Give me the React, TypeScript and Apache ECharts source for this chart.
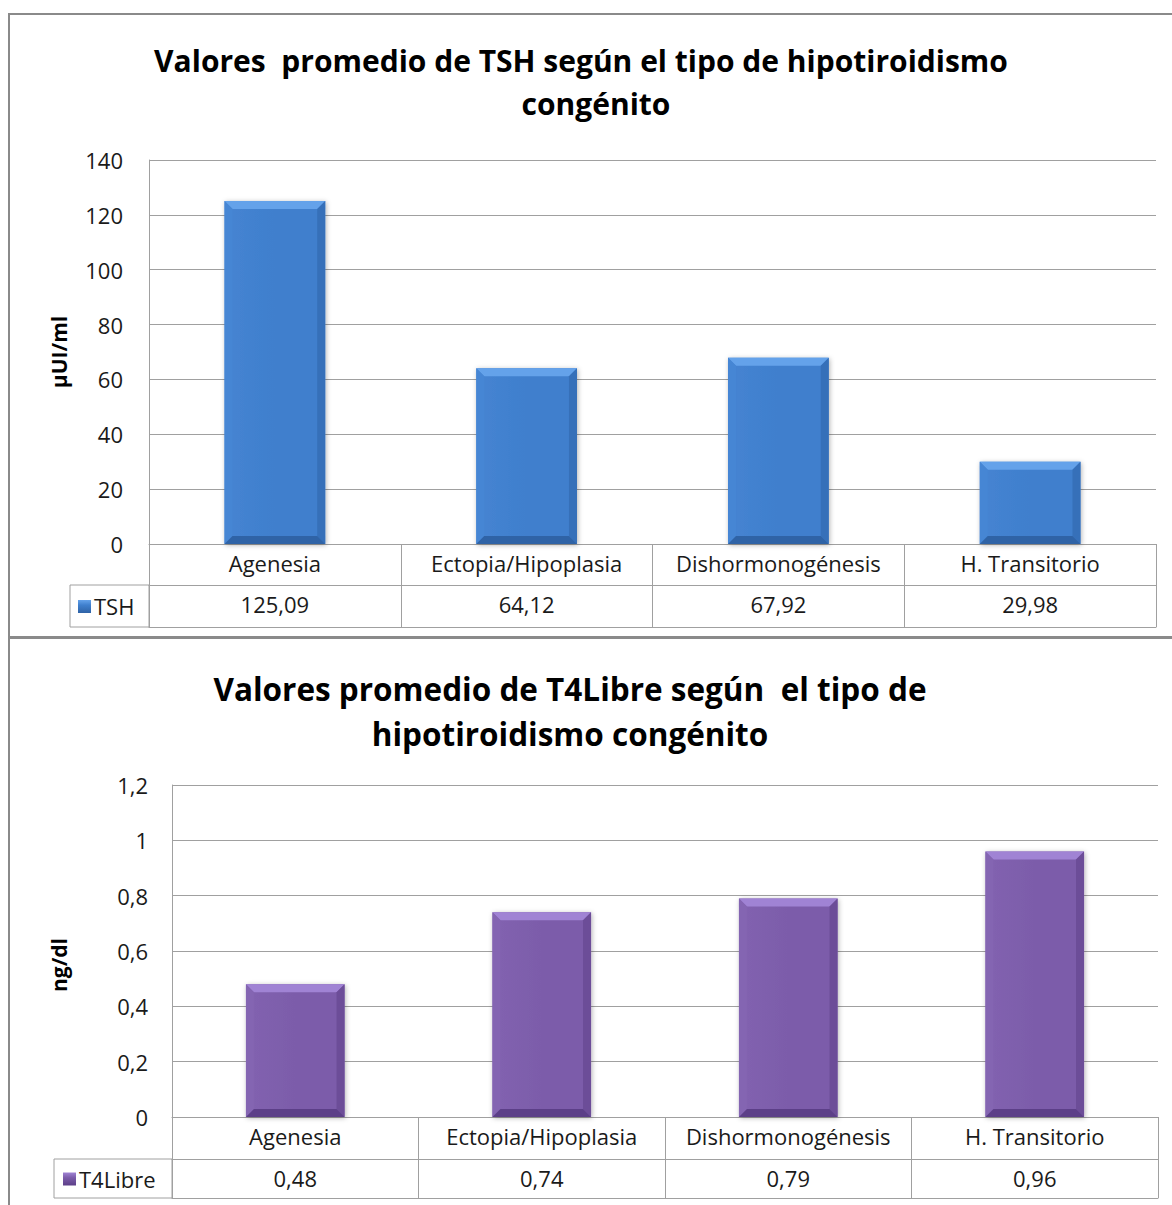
import React, { useEffect, useRef } from "react";
import * as echarts from "echarts";

const categories = ["Agenesia", "Ectopia/Hipoplasia", "Dishormonogénesis", "H. Transitorio"];
const tshValues = [125.09, 64.12, 67.92, 29.98];
const t4Values = [0.48, 0.74, 0.79, 0.96];
const tshTitle = ["Valores  promedio de TSH según el tipo de hipotiroidismo", "congénito"];
const t4Title = ["Valores promedio de T4Libre según  el tipo de", "hipotiroidismo congénito"];
const tshName = "TSH";
const t4Name = "T4Libre";
const tshAxisName = "µUI/ml";
const t4AxisName = "ng/dl";

const FONT = "'Open Sans', 'DejaVu Sans', sans-serif";
const GRAY = "#a0a0a0";
const TXT = "#1a1a1a";
const FS = 22;

const fmt2 = (v: number) => v.toFixed(2).replace(".", ",");
const fmtTick = (v: number) => String(Math.round(v * 10) / 10).replace(".", ",");

type Pal = { main: string; light: string; top: string; left: string; right: string; bottom: string };
const bluePal: Pal = { main: "#3f7fcd", light: "#4684d2", top: "#64a2ea", left: "#4686d4", right: "#3670b9", bottom: "#2f63a6" };
const purplePal: Pal = { main: "#7c5caa", light: "#8263b0", top: "#a083d4", left: "#8465b2", right: "#6c4d98", bottom: "#5c3f88" };

function bevel(p: Pal) {
  return (params: any, api: any) => {
    const idx = api.value(0);
    const v = api.value(1);
    const top = api.coord([idx, v]);
    const base = api.coord([idx, 0]);
    const w = api.size([1, 0])[0] * 0.4;
    const x0 = top[0] - w / 2;
    const x1 = top[0] + w / 2;
    const y0 = top[1];
    const y1 = base[1];
    const b = Math.min(8, (y1 - y0) / 2);
    return {
      type: "group",
      children: [
        {
          type: "rect",
          shape: { x: x0, y: y0, width: w, height: y1 - y0 },
          style: {
            fill: new echarts.graphic.LinearGradient(0, 0, 1, 0, [
              { offset: 0, color: p.light },
              { offset: 0.5, color: p.main },
              { offset: 1, color: p.main },
            ]),
            shadowBlur: 5,
            shadowColor: "rgba(0,0,0,0.3)",
            shadowOffsetX: 1,
            shadowOffsetY: 1,
          },
        },
        { type: "polygon", shape: { points: [[x0, y0], [x1, y0], [x1 - b, y0 + b], [x0 + b, y0 + b]] }, style: { fill: p.top } },
        { type: "polygon", shape: { points: [[x0, y0], [x0 + b, y0 + b], [x0 + b, y1 - b], [x0, y1]] }, style: { fill: p.left } },
        { type: "polygon", shape: { points: [[x1, y0], [x1, y1], [x1 - b, y1 - b], [x1 - b, y0 + b]] }, style: { fill: p.right } },
        { type: "polygon", shape: { points: [[x0, y1], [x1, y1], [x1 - b, y1 - b], [x0 + b, y1 - b]] }, style: { fill: p.bottom } },
      ],
    };
  };
}

function tableAxes(gridIndex: number, values: number[], row1: number, row2: number) {
  return [
    {
      type: "category",
      gridIndex,
      data: categories,
      position: "bottom",
      boundaryGap: true,
      axisLine: { show: true, lineStyle: { color: GRAY, width: 1 } },
      axisTick: { show: true, alignWithLabel: false, length: row1 + row2, lineStyle: { color: GRAY } },
      axisLabel: { interval: 0, fontFamily: FONT, fontSize: FS, color: TXT, margin: 8 },
    },
    {
      type: "category",
      gridIndex,
      data: values.map(fmt2),
      position: "bottom",
      offset: row1,
      boundaryGap: true,
      axisLine: { show: true, lineStyle: { color: GRAY, width: 1 } },
      axisTick: { show: false },
      axisLabel: { interval: 0, fontFamily: FONT, fontSize: FS, color: TXT, margin: 8 },
    },
    {
      type: "category",
      gridIndex,
      data: categories,
      position: "bottom",
      offset: row1 + row2,
      boundaryGap: true,
      axisLine: { show: true, lineStyle: { color: GRAY, width: 1 } },
      axisTick: { show: false },
      axisLabel: { show: false },
    },
  ];
}

function legendCell(x0: number, x1: number, y0: number, y1: number, p: Pal, name: string, iconX: number) {
  const cy = (y0 + y1) / 2;
  return [
    { type: "rect", shape: { x: x0, y: y0, width: x1 - x0, height: y1 - y0 }, style: { fill: "none", stroke: GRAY, lineWidth: 1 } },
    {
      type: "rect",
      shape: { x: x0 + iconX, y: cy - 6, width: 13, height: 13 },
      style: {
        fill: new echarts.graphic.LinearGradient(0, 0, 0, 1, [
          { offset: 0, color: p.top },
          { offset: 0.4, color: p.main },
          { offset: 1, color: p.bottom },
        ]),
      },
    },
    { type: "text", x: x0 + iconX + 16, y: cy, style: { text: name, fontFamily: FONT, fontSize: FS, fill: TXT, textVerticalAlign: "middle" } },
  ];
}

export default function App() {
  const ref = useRef<HTMLDivElement>(null);
  useEffect(() => {
    document.body.style.margin = "0";
    if (!ref.current) return;
    const chart = echarts.init(ref.current, null, { renderer: "svg" });
    const titleStyle = (text: string, x: number, y: number, fs: number) => ({
      type: "text",
      x,
      y,
      style: { text, fontFamily: FONT, fontSize: fs, fontWeight: "bold", fill: "#000", textAlign: "center", textVerticalAlign: "middle" },
    });
    chart.setOption({
      animation: false,
      backgroundColor: "#ffffff",
      grid: [
        { left: 149, top: 160, width: 1007, height: 384 },
        { left: 172, top: 785, width: 986, height: 332 },
      ],
      xAxis: [...tableAxes(0, tshValues, 41, 42), ...tableAxes(1, t4Values, 42, 39)],
      yAxis: [
        {
          type: "value",
          gridIndex: 0,
          min: 0,
          max: 140,
          interval: 20,
          name: tshAxisName,
          nameLocation: "middle",
          nameGap: 80,
          nameTextStyle: { fontFamily: FONT, fontSize: 21, fontWeight: "bold", color: "#000" },
          axisLine: { show: true, lineStyle: { color: GRAY } },
          axisTick: { show: false },
          axisLabel: { fontFamily: FONT, fontSize: FS, color: TXT, margin: 26 },
          splitLine: { show: true, lineStyle: { color: GRAY, width: 1 } },
        },
        {
          type: "value",
          gridIndex: 1,
          min: 0,
          max: 1.2,
          interval: 0.2,
          name: t4AxisName,
          nameLocation: "middle",
          nameGap: 103,
          nameTextStyle: { fontFamily: FONT, fontSize: 21, fontWeight: "bold", color: "#000", padding: [0, 28, 0, 0] },
          axisLine: { show: true, lineStyle: { color: GRAY } },
          axisTick: { show: false },
          axisLabel: { fontFamily: FONT, fontSize: FS, color: TXT, margin: 24, formatter: fmtTick },
          splitLine: { show: true, lineStyle: { color: GRAY, width: 1 } },
        },
      ],
      series: [
        {
          type: "custom",
          name: tshName,
          xAxisIndex: 0,
          yAxisIndex: 0,
          renderItem: bevel(bluePal),
          encode: { x: 0, y: 1 },
          data: tshValues.map((v, i) => [i, v]),
        },
        {
          type: "custom",
          name: t4Name,
          xAxisIndex: 3,
          yAxisIndex: 1,
          renderItem: bevel(purplePal),
          encode: { x: 0, y: 1 },
          data: t4Values.map((v, i) => [i, v]),
        },
      ],
      graphic: [
        { type: "rect", shape: { x: 9, y: 14, width: 1200, height: 623 }, style: { fill: "none", stroke: "#8a8a8a", lineWidth: 2 } },
        { type: "rect", shape: { x: 9, y: 638, width: 1200, height: 600 }, style: { fill: "none", stroke: "#8a8a8a", lineWidth: 2 } },
        titleStyle(tshTitle[0], 581, 60, 30),
        titleStyle(tshTitle[1], 596, 103, 30),
        titleStyle(t4Title[0], 570, 688, 31.5),
        titleStyle(t4Title[1], 570, 733, 31.5),
        ...legendCell(70, 149, 585, 627, bluePal, tshName, 8),
        ...legendCell(54, 172, 1159, 1198, purplePal, t4Name, 9),
      ],
    });
    return () => chart.dispose();
  }, []);
  return <div ref={ref} style={{ width: 1172, height: 1205 }} />;
}
